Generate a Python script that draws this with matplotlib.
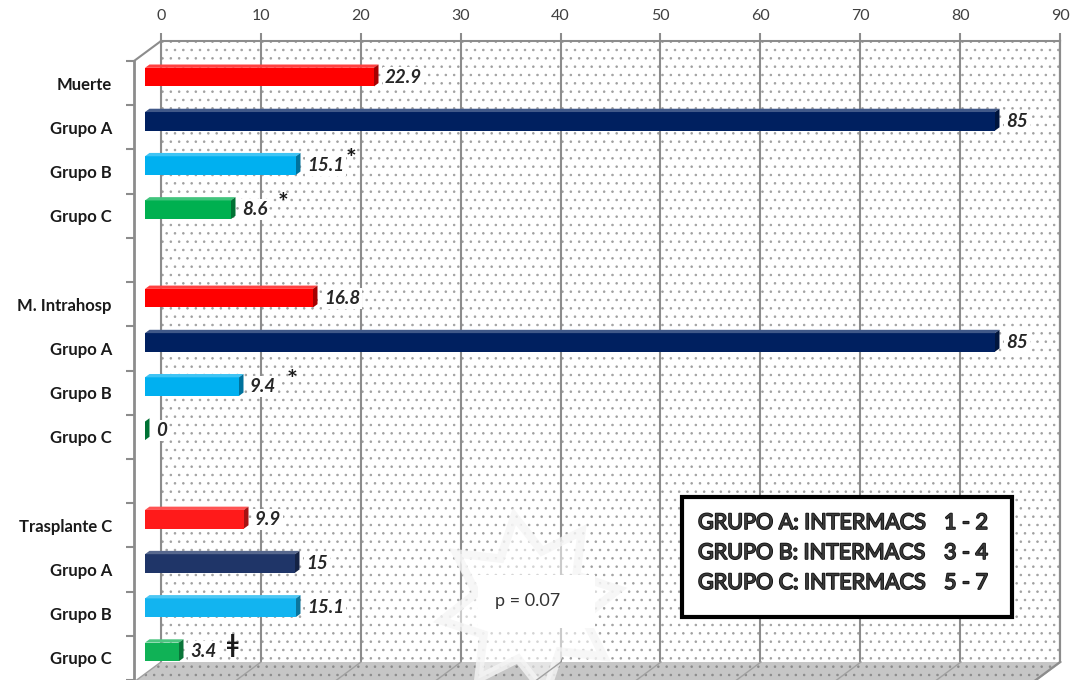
import numpy as np
import matplotlib
matplotlib.use("Agg")
import matplotlib.pyplot as plt
from matplotlib.patches import Rectangle, Polygon
import matplotlib.patheffects as pe

plt.rcParams['font.family'] = ['Lato', 'DejaVu Sans']
plt.rcParams['hatch.linewidth'] = 0.6

# data
groups = ["Muerte", "M. Intrahosp", "Trasplante C"]
subgroups = ["Grupo A", "Grupo B", "Grupo C"]
muerte = [22.9, 85, 15.1, 8.6]
intrahosp = [16.8, 85, 9.4, 0]
trasplante = [9.9, 15, 15.1, 3.4]
marks = [["", "", "*", "*"], ["", "", "*", ""], ["", "", "", "ǂ"]]
mark_gap = [["", "", 2, 10], ["", "", 10, ""], ["", "", "", 10]]
colors = [["#ff0000", "#002060", "#00b0f0", "#00b050"],
          ["#ff0000", "#002060", "#00b0f0", "#00b050"],
          ["#ff1a1a", "#1f3568", "#12b4f0", "#10b256"]]
ticks = list(range(0, 100, 10))
legend_lines = [("GRUPO A: INTERMACS", "1 - 2"),
                ("GRUPO B: INTERMACS", "3 - 4"),
                ("GRUPO C: INTERMACS", "5 - 7")]

W, H = 1073, 680
fig = plt.figure(figsize=(W / 100, H / 100), dpi=100)

def rect(x0, y0, x1, y1):
    return [x0 / W, 1 - y1 / H, (x1 - x0) / W, (y1 - y0) / H]

def shade(c, f):
    c = np.array(matplotlib.colors.to_rgb(c))
    if f < 1:
        return tuple(c * f)
    return tuple(c + (1 - c) * (f - 1))

# back wall
wall = fig.add_axes(rect(161, 41, 1060, 662))
wall.set_xlim(0, 90)
wall.set_ylim(0, 1)
wall.add_patch(Rectangle((0, 0), 90, 1, facecolor="white", edgecolor="#a0a0a0",
                         hatch="..", lw=0, zorder=0))
wall.set_xticks(ticks)
wall.set_yticks([])
wall.xaxis.tick_top()
wall.tick_params(axis="x", length=6, width=1.5, color="#8c8c8c", labelsize=11.5,
                 labelcolor="#404040", pad=7)
wall.grid(axis="x", color="#8c8c8c", lw=1.5, zorder=1)
for s in ["top", "right", "left"]:
    wall.spines[s].set_color("#8c8c8c")
    wall.spines[s].set_linewidth(1.5)
wall.spines["bottom"].set_visible(False)

# overlay in pixel coords
ov = fig.add_axes([0, 0, 1, 1], zorder=1)
ov.set_xlim(0, W)
ov.set_ylim(H, 0)
ov.axis("off")
ov.patch.set_alpha(0)

ov.add_patch(Polygon([(161, 662), (1060, 662), (1033, 682), (134, 682)],
                     facecolor="#c6c6c6", edgecolor="#8a8a8a", hatch="..", lw=0))
for t in ticks:
    x = 161 + t * 10
    ov.plot([x, x - 27], [662, 682], color="#a0a0a0", lw=1)
ov.plot([1060, 1060, 1033], [41, 662, 682], color="#8c8c8c", lw=1.5)
ov.plot([134, 161], [61, 41], color="#8c8c8c", lw=1.5)

# p-value star
ang = np.linspace(0, 2 * np.pi, 17)[:-1] + np.deg2rad(-100)
rad = np.where(np.arange(16) % 2 == 0, 90, 55)
star = np.column_stack([530 + rad * np.cos(ang), 605 + rad * np.sin(ang)])
ov.add_patch(Polygon(star, facecolor=(1, 1, 1, 0.55), edgecolor=(0.96, 0.96, 0.96, 0.8), lw=6))
ov.add_patch(Rectangle((478, 575), 117, 53, facecolor="white", lw=0))
ov.text(528, 601, "p = 0.07", ha="center", va="center", fontsize=13, color="#333333")

# legend box
ov.add_patch(Rectangle((682, 497), 330, 120, facecolor="white", edgecolor="black", lw=3))
for i, (a, b) in enumerate(legend_lines):
    y = 523 + 30 * i
    for x, s in [(698, a), (944, b)]:
        ov.text(x, y, s, ha="left", va="center", fontsize=15.5, color="#3a3a3a",
                path_effects=[pe.withStroke(linewidth=1.2, foreground="#111111")])

# bars
bx = fig.add_axes(rect(145, 55, 1045, 674), zorder=2)
bx.set_xlim(0, 90)
bx.set_ylim(14, 0)
bx.axis("off")
bx.patch.set_alpha(0)

series = [muerte, intrahosp, trasplante]
h, dx, dy = 0.42, 0.45, 0.075
label_list = []
for g, vals in enumerate(series):
    for k, v in enumerate(vals):
        c = g * 5 + k + 0.5
        col = colors[g][k]
        top, bot = c - h / 2, c + h / 2
        bx.add_patch(Rectangle((0, top), v, h, facecolor=col, lw=0))
        bx.add_patch(Polygon([(0, top), (v, top), (v + dx, top - dy), (dx, top - dy)],
                             facecolor=shade(col, 1.25), lw=0))
        bx.add_patch(Polygon([(v, top), (v, bot), (v + dx, bot - dy), (v + dx, top - dy)],
                             facecolor=shade(col, 0.65), lw=0))
        t = bx.text(v + 1.1, c, f"{v:g}", ha="left", va="center", fontsize=13.5,
                    fontweight="bold", fontstyle="italic", color="#262626",
                    bbox=dict(facecolor="white", edgecolor="none", pad=1.5))
        if marks[g][k]:
            label_list.append((t, marks[g][k], mark_gap[g][k]))

fig.canvas.draw()
inv = fig.transFigure.inverted()
for t, m, gap in label_list:
    bb = t.get_window_extent()
    x, y = inv.transform((bb.x1 + gap, bb.y1 - 2))
    fig.text(x, y, m, ha="left", va="center", fontsize=18, fontweight="bold",
             color="#1a1a1a", zorder=5)

# category axis
lx = fig.add_axes(rect(134, 61, 1000, 680), zorder=2)
lx.set_xlim(0, 1)
lx.set_ylim(14, 0)
lx.patch.set_alpha(0)
for s in ["top", "right", "bottom"]:
    lx.spines[s].set_visible(False)
lx.spines["left"].set_color("#8c8c8c")
lx.spines["left"].set_linewidth(2)
lx.set_xticks([])
lx.set_yticks(range(15))
lx.set_yticklabels([])
lx.tick_params(axis="y", which="major", length=6, width=1.5, color="#8c8c8c")
cat_pos = []
cat_labels = []
for g, name in enumerate(groups):
    cat_pos += [g * 5 + k + 0.5 for k in range(4)]
    cat_labels += [name] + subgroups
lx.set_yticks(cat_pos, minor=True)
lx.set_yticklabels(cat_labels, minor=True, fontsize=12, fontweight="bold", color="#1a1a1a")
lx.tick_params(axis="y", which="minor", length=0, pad=16)

fig.savefig("out.png", dpi=100)
